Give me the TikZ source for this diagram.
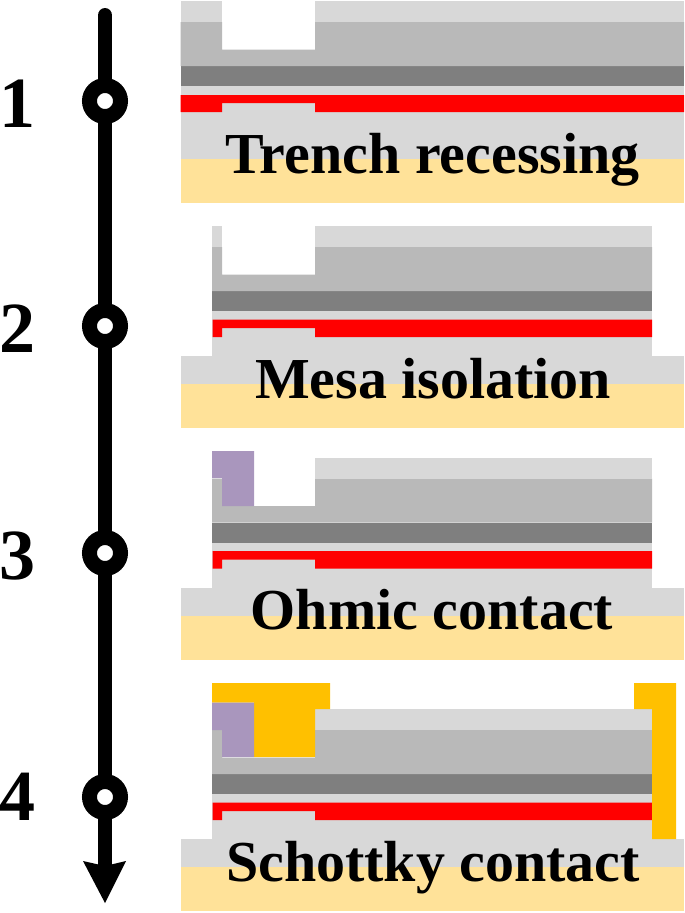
\documentclass[tikz,border=0pt]{standalone}
\usepackage{fontspec}
\setmainfont{Liberation Serif}
\usetikzlibrary{arrows.meta}
\definecolor{capgray}{HTML}{D8D8D8}
\definecolor{midgray}{HTML}{B9B9B9}
\definecolor{darkgray}{HTML}{7F7F7F}
\definecolor{sand}{HTML}{FFE299}
\definecolor{ohmic}{HTML}{A996BD}
\definecolor{schottky}{HTML}{FFC000}
\tikzset{
  steplabel/.style={font=\bfseries\fontsize{33}{36}\selectfont,anchor=base,inner sep=0pt},
  numlabel/.style={font=\bfseries\fontsize{41}{46}\selectfont,anchor=base,inner sep=0pt},
  ringmark/.style={circle,draw=black,line width=0.3cm,fill=white,minimum size=0.62cm,inner sep=0pt}
}
% the layers of one mesa, top of the cap layer at y=0
\newcommand{\mesalayers}{
  \fill[sand] (180.5,158) rectangle (684,202); % substrate
  \fill[capgray] (180.5,130) rectangle (684,158); % buffer (foot)
  \fill[capgray] (212,65) rectangle (652,130); % buffer (mesa)
  \fill[red] (212.5,93.5) -- (652,93.5) -- (652,111) -- (315,111) -- (315,102) -- (222,102) -- (222,111) -- (212.5,111) -- cycle; % channel
  \fill[darkgray] (212,65) rectangle (652,85); % dark layer
  \fill[midgray] (212,21) -- (222,21) -- (222,48.5) -- (315,48.5) -- (315,21) -- (652,21) -- (652,65) -- (212,65) -- cycle; % barrier
  \fill[capgray] (315,0) rectangle (652,21); % cap
}
\begin{document}
\begin{tikzpicture}[x=0.02cm,y=-0.02cm]
\useasboundingbox (0,0) rectangle (685,913);
%% Time line
\coordinate (start) at (105,15.5);
\coordinate (stem) at (105,866);
\coordinate (tip) at (105,903);
\draw[line width=0.3cm,line cap=round] (start) -- (stem);
\fill (tip) -- (83,861) -- (105,866) -- (126,861) -- cycle; % head
\node[ringmark] (ringa) at (105,101) {};
\node[ringmark] (ringb) at (105,326) {};
\node[ringmark] (ringc) at (105,553) {};
\node[ringmark] (ringd) at (105,797) {};
\node[numlabel] (numa) at (18,127) {1};
\node[numlabel] (numb) at (18,352) {2};
\node[numlabel] (numc) at (18,579) {3};
\node[numlabel] (numd) at (18,820) {4};
%% Panel 1
\fill[sand] (180.5,159) rectangle (684,203); % substrate
\fill[capgray] (180.5,86) rectangle (684,159); % buffer
\fill[red] (180.5,95) -- (684,95) -- (684,112) -- (315,112) -- (315,103) -- (222,103) -- (222,112) -- (180.5,112) -- cycle; % channel
\fill[darkgray] (180.5,66) rectangle (684,86); % dark layer
\fill[midgray] (180.5,22) -- (222,22) -- (222,49.5) -- (315,49.5) -- (315,22) -- (684,22) -- (684,66) -- (180.5,66) -- cycle; % barrier
\fill[capgray] (180.5,1) rectangle (222,22); % cap (left)
\fill[capgray] (315,1) rectangle (684,22); % cap (right)
%% Panel 2
\begin{scope}[shift={(0,226)}]
\mesalayers
\fill[capgray] (212,0) rectangle (222,21); % cap (left)
\end{scope}
%% Panel 3
\begin{scope}[shift={(0,457.5)}]
\mesalayers
\end{scope}
\fill[ohmic] (212,451) -- (254,451) -- (254,506) -- (222,506) -- (222,478) -- (212,478) -- cycle; % ohmic metal
%% Panel 4
\begin{scope}[shift={(0,709)}]
\mesalayers
\end{scope}
\fill[schottky] (212,683) -- (330,683) -- (330,709) -- (315,709) -- (315,757) -- (254,757) -- (254,702.5) -- (212,702.5) -- cycle; % gate
\fill[schottky] (634,683) -- (676,683) -- (676,839) -- (652,839) -- (652,709) -- (634,709) -- cycle; % right metal
\fill[ohmic] (212,702.5) -- (254,702.5) -- (254,757) -- (222,757) -- (222,730) -- (212,730) -- cycle; % ohmic metal
%% Labels
\node[steplabel] (labela) at (432.5,173) {Trench recessing};
\node[steplabel] (labelb) at (433,398) {Mesa isolation};
\node[steplabel] (labelc) at (432,629) {Ohmic contact};
\node[steplabel] (labeld) at (433,881) {Schottky contact};
\end{tikzpicture}
\end{document}
